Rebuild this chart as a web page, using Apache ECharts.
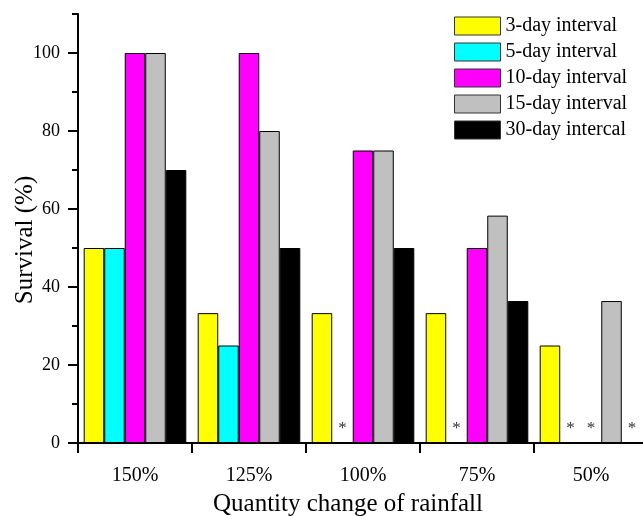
<!DOCTYPE html>
<html>
<head>
<meta charset="utf-8">
<script src="https://cdn.jsdelivr.net/npm/echarts@6/dist/echarts.min.js"></script>
<style>html,body{margin:0;padding:0;background:#fff}#c{width:643px;height:516px}</style>
</head>
<body>
<div id="c"></div>
<script>
const categories = ['150%', '125%', '100%', '75%', '50%'];
const seriesNames = ['3-day interval', '5-day interval', '10-day interval', '15-day interval', '30-day intercal'];
const day3 = [50, 33.3, 33.3, 33.3, 25];
const day5 = [50, 25, 0, 0, 0];
const day10 = [100, 100, 75, 50, 0];
const day15 = [100, 80, 75, 58.3, 36.4];
const day30 = [70, 50, 50, 36.4, 0];
const colors = ['#ffff00', '#00ffff', '#ff00ff', '#c0c0c0', '#000000'];
const majorTicks = [0, 20, 40, 60, 80, 100];
const minorTicks = [10, 30, 50, 70, 90, 110];

const FONT = '"Liberation Serif", "Times New Roman", serif';
const values = [day3, day5, day10, day15, day30];

const chart = echarts.init(document.getElementById('c'), null, {renderer: 'canvas'});
const gridPos = {left: 78, top: 14, bottom: 73, right: -5, containLabel: false, outerBoundsMode: 'none'};

const series = values.map((vals, i) => ({
  name: seriesNames[i],
  type: 'bar',
  xAxisIndex: 0,
  yAxisIndex: 0,
  data: vals,
  barGap: 0,
  barCategoryGap: '10%',
  itemStyle: {color: colors[i], borderColor: '#000', borderWidth: 1},
  label: {
    show: true,
    position: 'top',
    distance: 5,
    fontFamily: FONT,
    fontSize: 17,
    color: '#333',
    formatter: p => (p.value === 0 ? '*' : '')
  }
}));

chart.setOption({
  animation: false,
  backgroundColor: '#fff',
  grid: [
    Object.assign({}, gridPos),
    Object.assign({}, gridPos)
  ],
  legend: {
    orient: 'vertical',
    left: 454,
    top: 16,
    padding: 0,
    icon: 'rect',
    itemWidth: 46,
    itemHeight: 18,
    itemGap: 6,
    itemStyle: {borderColor: '#333', borderWidth: 1},
    textStyle: {fontFamily: FONT, fontSize: 20, color: '#000'},
    data: seriesNames
  },
  xAxis: [{
    type: 'category',
    gridIndex: 0,
    data: categories,
    name: 'Quantity change of rainfall',
    nameLocation: 'middle',
    nameGap: 49,
    nameMoveOverlap: false,
    nameTextStyle: {fontFamily: FONT, fontSize: 25, color: '#000', padding: [0, 30, 0, 0]},
    axisLine: {lineStyle: {color: '#000', width: 2}},
    axisTick: {show: true, length: 10, inside: false, lineStyle: {color: '#000', width: 2}},
    axisLabel: {fontFamily: FONT, fontSize: 20, color: '#000', margin: 23},
    splitLine: {show: false}
  }, {
    type: 'category',
    gridIndex: 1,
    data: categories,
    show: false
  }],
  yAxis: [{
    type: 'value',
    gridIndex: 0,
    min: 0,
    max: 110,
    interval: 10,
    name: 'Survival (%)',
    nameLocation: 'middle',
    nameGap: 40,
    nameMoveOverlap: false,
    nameTextStyle: {fontFamily: FONT, fontSize: 25, color: '#000', padding: [0, 23, 0, 0]},
    axisLine: {show: true, lineStyle: {color: '#000', width: 2}},
    axisTick: {show: true, length: 10, customValues: majorTicks, lineStyle: {color: '#000', width: 2}},
    axisLabel: {fontFamily: FONT, fontSize: 18, color: '#000', margin: 18, customValues: majorTicks},
    splitLine: {show: false}
  }, {
    type: 'value',
    gridIndex: 1,
    min: 0,
    max: 110,
    interval: 10,
    axisLine: {show: false},
    axisTick: {show: true, length: 6, customValues: minorTicks, lineStyle: {color: '#000', width: 2}},
    axisLabel: {show: false},
    splitLine: {show: false}
  }],
  series: series
});
</script>
</body>
</html>
